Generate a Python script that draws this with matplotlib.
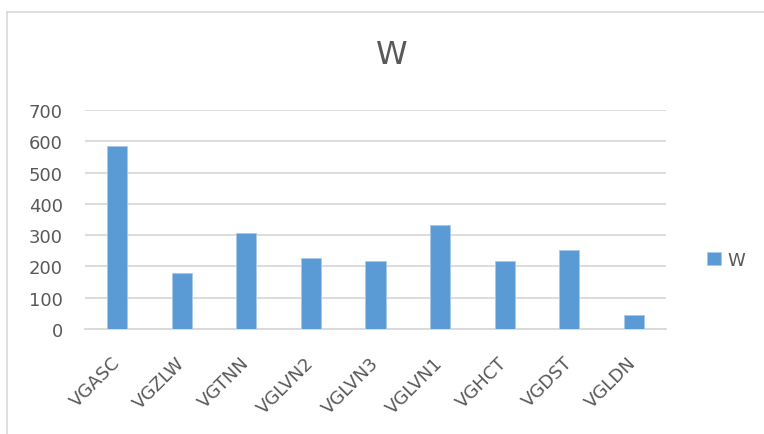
import matplotlib
matplotlib.use('Agg')
import matplotlib.pyplot as plt
from matplotlib.lines import Line2D

categories = ['VGASC', 'VGZLW', 'VGTNN', 'VGLVN2', 'VGLVN3', 'VGLVN1', 'VGHCT', 'VGDST', 'VGLDN']
values = [584, 180, 307, 227, 216, 331, 216, 251, 45]
series_name = 'W'
yticks = [0, 100, 200, 300, 400, 500, 600, 700]

W, H = 764, 435
plt.rcParams['font.family'] = ['DejaVu Sans']
txt = '#595959'
grid = '#d9d9d9'

fig = plt.figure(figsize=(W / 100, H / 100), dpi=100)
# plot area in pixels: x 85..666, y 111..330
ax = fig.add_axes([85 / W, 1 - 330 / H, (666 - 85) / W, (330 - 111) / H])

x = range(len(categories))
ax.bar(x, values, width=0.313, color='#5b9bd5', edgecolor='#a9c9ea', linewidth=0.6,
       zorder=3, label=series_name)
ax.set_xlim(-0.5, len(categories) - 0.5)
ax.set_ylim(0, 700)
ax.set_yticks(yticks)
ax.set_yticklabels([str(t) for t in yticks])
ax.set_xticks(list(x))
ax.set_xticklabels(categories, rotation=45, ha='right', va='center', rotation_mode='anchor')

ax.yaxis.grid(True, color=grid, linewidth=1.3, zorder=0)
for s in ['top', 'right', 'left']:
    ax.spines[s].set_visible(False)
ax.spines['bottom'].set_color(grid)
ax.spines['bottom'].set_linewidth(1.3)
ax.tick_params(axis='both', length=0, labelsize=13, colors=txt)
ax.tick_params(axis='y', pad=16)
ax.tick_params(axis='x', pad=22)

fig.text(392 / W, 1 - 55 / H, 'W', ha='center', va='center', fontsize=23, color=txt)

ax.legend(loc='center left', bbox_to_anchor=(707 / W, 1 - 261 / H),
          bbox_transform=fig.transFigure, frameon=False, fontsize=13,
          labelcolor=txt, handlelength=0.75, handleheight=0.75, handletextpad=0.4,
          borderpad=0, borderaxespad=0)

# chart border (left and top visible)
fig.add_artist(Line2D([7 / W, 7 / W], [0, 1 - 13 / H], transform=fig.transFigure,
                      color=grid, linewidth=1.2))
fig.add_artist(Line2D([7 / W, 1], [1 - 13 / H, 1 - 13 / H], transform=fig.transFigure,
                      color=grid, linewidth=1.2))

fig.savefig('out.png', dpi=100, facecolor='white')
